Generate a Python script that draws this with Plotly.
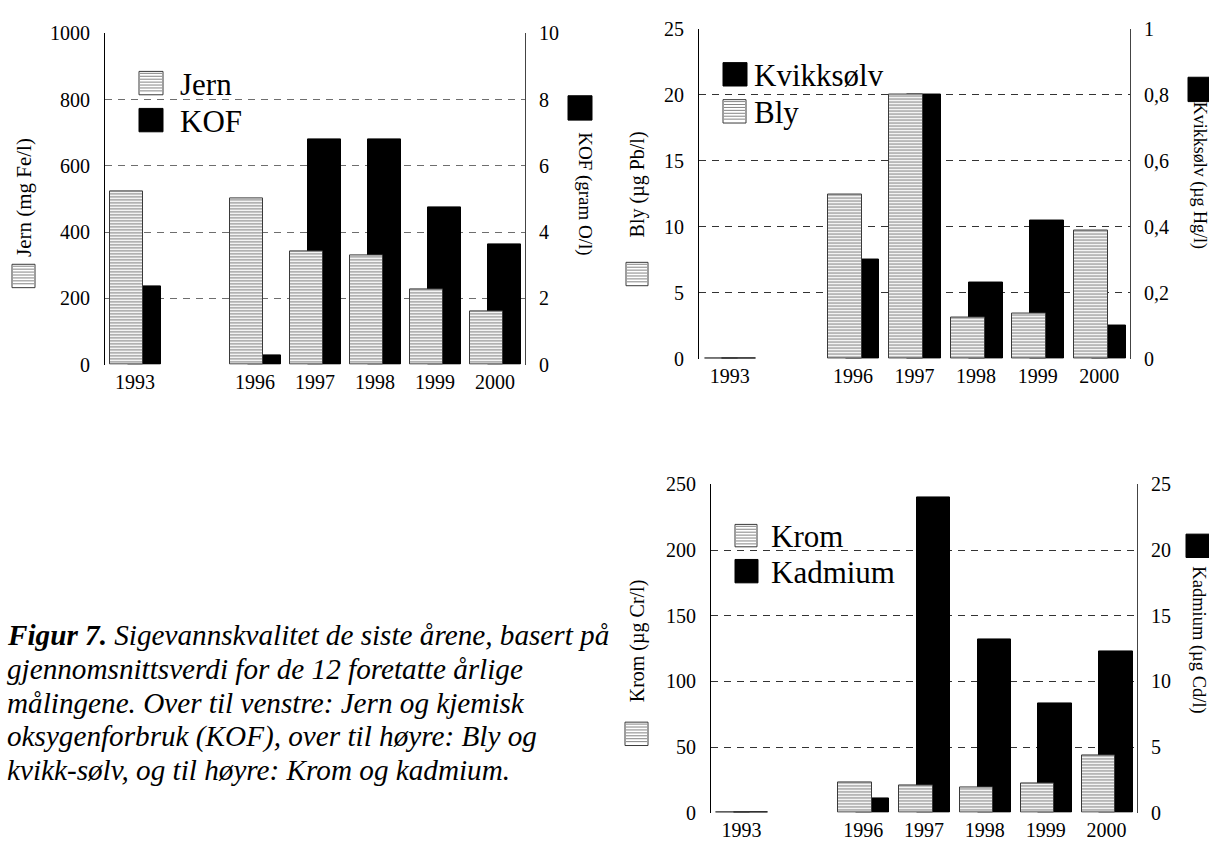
import plotly.graph_objects as go

W, H = 1209, 852

# ---------------- data ----------------
years = ["1993", " ", "1996", "1997", "1998", "1999", "2000"]

jern = [523, None, 503, 342, 330, 227, 160]          # mg Fe/l
kof = [2.35, None, 0.28, 6.81, 6.79, 4.76, 3.64]     # gram O/l

bly = [0, None, 12.4, 20.0, 3.1, 3.4, 9.7]           # µg Pb/l
kvikksolv = [0, None, 0.30, 0.80, 0.23, 0.42, 0.10]  # µg Hg/l

krom = [0, None, 23.0, 20.7, 19.2, 22.2, 43.4]       # µg Cr/l
kadmium = [0, None, 1.1, 24.0, 13.2, 8.3, 12.3]      # µg Cd/l

ticks_jern = [0, 200, 400, 600, 800, 1000]
ticks_kof = [0, 2, 4, 6, 8, 10]
ticks_bly = [0, 5, 10, 15, 20, 25]
ticks_hg = [0, 0.2, 0.4, 0.6, 0.8, 1]
ticks_hg_text = ["0", "0,2", "0,4", "0,6", "0,8", "1"]
ticks_krom = [0, 50, 100, 150, 200, 250]
ticks_cd = [0, 5, 10, 15, 20, 25]

caption_lines = [
    "<b>Figur 7.</b> Sigevannskvalitet de siste årene, basert på",
    "gjennomsnittsverdi for de 12 foretatte årlige",
    "målingene. Over til venstre: Jern og kjemisk",
    "oksygenforbruk (KOF), over til høyre: Bly og",
    "kvikk-sølv, og til høyre: Krom og kadmium.",
]

# ---------------- helpers ----------------
FONT = "Liberation Serif, Times New Roman, serif"


def px(x):
    return x / W


def py(y):
    return 1 - y / H


HATCH = dict(shape="-", size=3, solidity=0.4, fgcolor="#858585",
             bgcolor="white", fillmode="replace")

fig = go.Figure()
shapes = []
annotations = []

panels = [
    dict(box=(105, 23, 525, 363), ax=("x", "y", "y2"),
         hatched=jern, black=kof, lrange=1000, rrange=10,
         lticks=ticks_jern, rticks=ticks_kof, rtext=[str(v) for v in ticks_kof],
         gridcolor="#6e6e6e", hatched_name="Jern", black_name="KOF"),
    dict(box=(699, 18, 1130, 357), ax=("x2", "y3", "y4"),
         hatched=bly, black=kvikksolv, lrange=25, rrange=1,
         lticks=ticks_bly, rticks=ticks_hg, rtext=ticks_hg_text,
         gridcolor="#333333", hatched_name="Bly", black_name="Kvikksølv"),
    dict(box=(711, 486, 1137, 823), ax=("x3", "y5", "y6"),
         hatched=krom, black=kadmium, lrange=250, rrange=25,
         lticks=ticks_krom, rticks=ticks_cd, rtext=[str(v) for v in ticks_cd],
         gridcolor="#333333", hatched_name="Krom", black_name="Kadmium"),
]

BAR_W = 0.55
TICKFONT = dict(family=FONT, size=20, color="black")
layout_axes = {}
for p in panels:
    xa, ya_base, ya_over = p["ax"]
    x0, y0, x1, y1 = p["box"]
    # black bars on the base axis (right side) -> drawn first
    fig.add_trace(go.Bar(x=years, y=p["black"], xaxis=xa, yaxis=ya_base,
                         width=BAR_W, offset=-0.12, showlegend=False,
                         marker=dict(color="black", line=dict(color="black", width=1))))
    # hatched bars on the overlaying axis (left side) -> drawn on top
    fig.add_trace(go.Bar(x=years, y=p["hatched"], xaxis=xa, yaxis=ya_over,
                         width=BAR_W, offset=-0.41, showlegend=False,
                         marker=dict(color="white", pattern=HATCH,
                                     line=dict(color="#3a3a3a", width=1))))
    xk = "xaxis" + xa[1:]
    yk = "yaxis" + ya_base[1:]
    yk2 = "yaxis" + ya_over[1:]
    layout_axes[xk] = dict(
        domain=[px(x0), px(x1)], anchor=ya_base, type="category",
        categoryorder="array", categoryarray=years, range=[-0.5, 6.5],
        showline=False, ticks="",
        showgrid=False, zeroline=False, ticklabelstandoff=3,
        tickfont=TICKFONT)
    layout_axes[yk] = dict(
        domain=[py(y1), py(y0)], anchor=xa, side="right", range=[0, p["rrange"]],
        tickvals=p["rticks"], ticktext=p["rtext"],
        showgrid=True, gridcolor=p["gridcolor"], gridwidth=1, griddash="7px,6px",
        showline=True, linecolor="#444444", linewidth=1, zeroline=False, ticks="",
        ticklabelstandoff=9, tickfont=TICKFONT)
    layout_axes[yk2] = dict(
        overlaying=ya_base, side="left", anchor=xa, range=[0, p["lrange"]],
        tickvals=p["lticks"], ticktext=[str(v) for v in p["lticks"]],
        showgrid=False, showline=True, linecolor="black", linewidth=1,
        zeroline=False, ticks="", ticklabelstandoff=10, tickfont=TICKFONT)


def hatched_swatch(x0, y0, x1, y1):
    shapes.append(dict(type="rect", xref="paper", yref="paper",
                       x0=px(x0), x1=px(x1), y0=py(y1), y1=py(y0),
                       fillcolor="white", line=dict(color="#3a3a3a", width=1)))
    segs = []
    y = y0 + 2
    while y < y1 - 1:
        segs.append(f"M{px(x0 + 1):.5f},{py(y):.5f} H{px(x1 - 1):.5f}")
        y += 3
    shapes.append(dict(type="path", xref="paper", yref="paper", path=" ".join(segs),
                       line=dict(color="#858585", width=1)))


def black_swatch(x0, y0, x1, y1):
    shapes.append(dict(type="rect", xref="paper", yref="paper",
                       x0=px(x0), x1=px(x1), y0=py(y1), y1=py(y0),
                       fillcolor="black", line=dict(color="black", width=1)))


def text(x, y, s, size, angle=0, xanchor="left", yanchor="middle", italic=False):
    annotations.append(dict(xref="paper", yref="paper", x=px(x), y=py(y), text=s,
                            showarrow=False, textangle=angle, xanchor=xanchor,
                            yanchor=yanchor,
                            font=dict(family=FONT, size=size, color="black",
                                      style="italic" if italic else "normal")))


# ---- panel 1 legend / axis labels ----
hatched_swatch(139, 62, 163, 86)
text(178, 75, panels[0]["hatched_name"], 31)
black_swatch(139, 100, 163, 124)
text(178, 113, panels[0]["black_name"], 31)
text(24, 192, "Jern (mg Fe/l)", 21, angle=-90, xanchor="center")
hatched_swatch(12, 260, 35, 284)
black_swatch(568, 87, 592, 112)
text(585, 187, "KOF (gram O/l)", 19, angle=90, xanchor="center")

# ---- panel 2 ----
black_swatch(723, 53, 747, 77)
text(752, 66, panels[1]["black_name"], 31)
hatched_swatch(723, 91, 746, 115)
text(752, 104, panels[1]["hatched_name"], 31)
text(637, 178, "Bly (µg Pb/l)", 20, angle=-90, xanchor="center")
hatched_swatch(626, 258, 648, 282)
black_swatch(1188, 68, 1212, 93)
text(1199, 168, "Kvikksølv (µg Hg/l)", 18, angle=90, xanchor="center")

# ---- panel 3 ----
hatched_swatch(735, 527, 757, 550)
text(769, 539, panels[2]["hatched_name"], 31)
black_swatch(735, 563, 758, 587)
text(769, 576, panels[2]["black_name"], 31)
text(637, 647, "Krom (µg Cr/l)", 20, angle=-90, xanchor="center")
hatched_swatch(625, 730, 648, 754)
black_swatch(1186, 537, 1210, 561)
text(1199, 645, "Kadmium (µg Cd/l)", 18.5, angle=90, xanchor="center")

# ---- caption ----
for i, line in enumerate(caption_lines):
    text(5, 641 + i * 34.5, line, 29.2, italic=True)

fig.update_layout(
    width=W, height=H, margin=dict(l=0, r=0, t=0, b=0),
    paper_bgcolor="white", plot_bgcolor="white",
    barmode="overlay", bargap=0, showlegend=False,
    font=dict(family=FONT, color="black"),
    shapes=shapes, annotations=annotations,
    **layout_axes,
)

fig.write_html("out.html")
